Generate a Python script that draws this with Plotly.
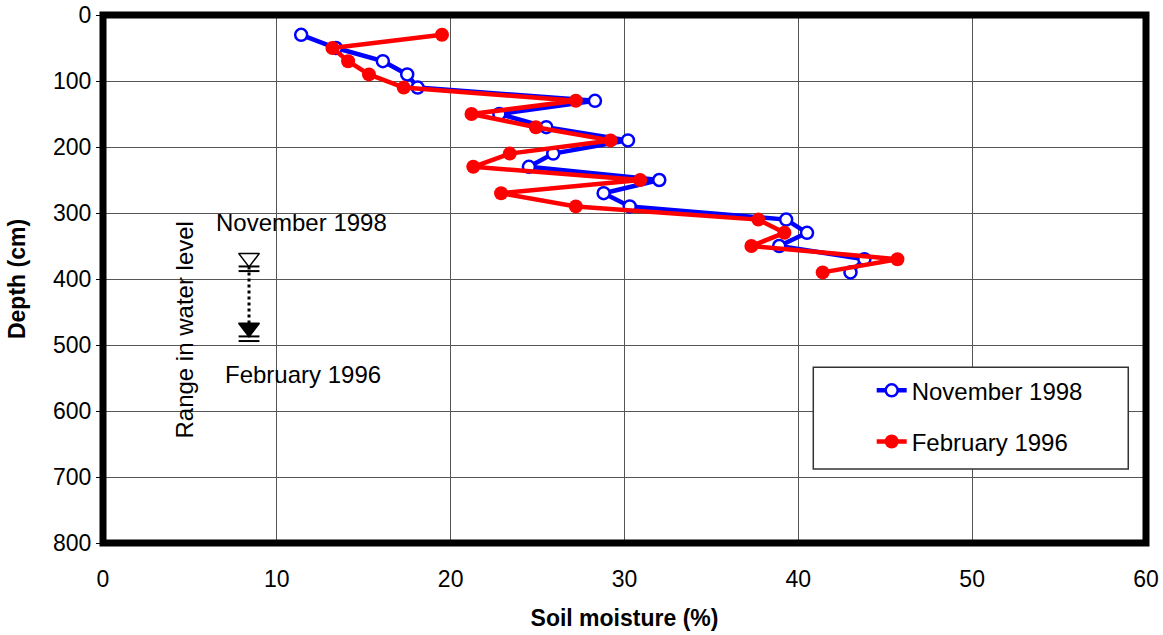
import plotly.graph_objects as go

depth = [30, 50, 70, 90, 110, 130, 150, 170, 190, 210, 230, 250, 270, 290, 310, 330, 350, 370, 390]
nov_1998 = [11.4, 13.4, 16.1, 17.5, 18.1, 28.3, 22.8, 25.5, 30.2, 25.9, 24.5, 32.0, 28.8, 30.3, 39.3, 40.5, 38.9, 43.8, 43.0]
feb_1996 = [19.5, 13.2, 14.1, 15.3, 17.3, 27.2, 21.2, 24.9, 29.2, 23.4, 21.3, 30.9, 22.9, 27.2, 37.7, 39.2, 37.3, 45.7, 41.4]

# water level range (x position, depth)
wl_x = 8.4
wl_levels = [381, 487]

FONT = "Liberation Sans, Arial, sans-serif"

fig = go.Figure()
fig.add_scatter(
    x=nov_1998, y=depth, mode="lines+markers", name="November 1998", legendgroup="a",
    line=dict(color="#0000ff", width=4.5),
    marker=dict(symbol="circle", size=12, color="white", line=dict(color="#0000ff", width=2.5)),
)
fig.add_scatter(
    x=feb_1996, y=depth, mode="lines+markers", name="February 1996", legendgroup="b",
    line=dict(color="#ff0000", width=4.5),
    marker=dict(symbol="circle", size=14, color="#ff0000"),
)

# water level symbols
fig.add_scatter(
    x=[wl_x, wl_x], y=[wl_levels[0], wl_levels[1] - 20], mode="lines",
    line=dict(color="black", width=3, dash="dot"), showlegend=False, hoverinfo="skip",
)
fig.add_scatter(
    x=[wl_x, wl_x], y=[wl_levels[0] - 13, wl_levels[1] - 13], mode="markers",
    marker=dict(symbol=["triangle-down-open", "triangle-down"], size=18, color="black",
                line=dict(color="black", width=1.5)),
    showlegend=False, hoverinfo="skip",
)
for lv in wl_levels:
    for off in (0, 7):
        fig.add_shape(type="line", x0=wl_x - 0.6, x1=wl_x + 0.6, y0=lv + off, y1=lv + off,
                      line=dict(color="black", width=2))

fig.add_annotation(x=11.4, y=314, text="November 1998", showarrow=False,
                   font=dict(size=24, color="black", family=FONT))
fig.add_annotation(x=11.5, y=544, text="February 1996", showarrow=False,
                   font=dict(size=24, color="black", family=FONT))
fig.add_annotation(x=4.7, y=477, text="Range in water level", showarrow=False, textangle=-90,
                   font=dict(size=24, color="black", family=FONT))

# legend box
fig.add_shape(type="rect", xref="paper", yref="paper", x0=0.681, x1=0.983, y0=0.140, y1=0.333,
              line=dict(color="#333333", width=1.5), fillcolor="white", layer="above")

# thick plot frame
fig.add_shape(type="rect", xref="paper", yref="paper", x0=0, x1=1, y0=0, y1=1,
              line=dict(color="black", width=7))

fig.update_xaxes(
    range=[0, 60], tick0=0, dtick=10, showgrid=True, gridcolor="#555555", gridwidth=1,
    zeroline=False, ticks="", ticklen=0, automargin=False, ticklabeloverflow="allow",
    ticklabelstandoff=20,
    tickfont=dict(size=23, color="black", family=FONT),
    title=dict(text="<b>Soil moisture (%)</b>", font=dict(size=23, color="black", family=FONT), standoff=18),
)
fig.update_yaxes(
    range=[800, 0], tick0=0, dtick=100, showgrid=True, gridcolor="#555555", gridwidth=1,
    zeroline=False, ticks="outside", ticklen=6, tickcolor="black", automargin=False,
    ticklabeloverflow="allow",
    tickfont=dict(size=23, color="black", family=FONT),
    title=dict(text="<b>Depth (cm)</b>", font=dict(size=23, color="black", family=FONT), standoff=20),
)

fig.update_layout(
    width=1163, height=635,
    margin=dict(l=103, r=17, t=15, b=92),
    paper_bgcolor="white", plot_bgcolor="white",
    font=dict(family=FONT, color="black"),
    legend=dict(
        x=0.737, y=0.331, xanchor="left", yanchor="top",
        bgcolor="rgba(0,0,0,0)", borderwidth=0,
        font=dict(size=24, color="black", family=FONT),
        traceorder="grouped", tracegroupgap=17,
    ),
)

fig.write_html("out.html", config={"displayModeBar": False},
               post_script="document.body.style.margin='0';")
